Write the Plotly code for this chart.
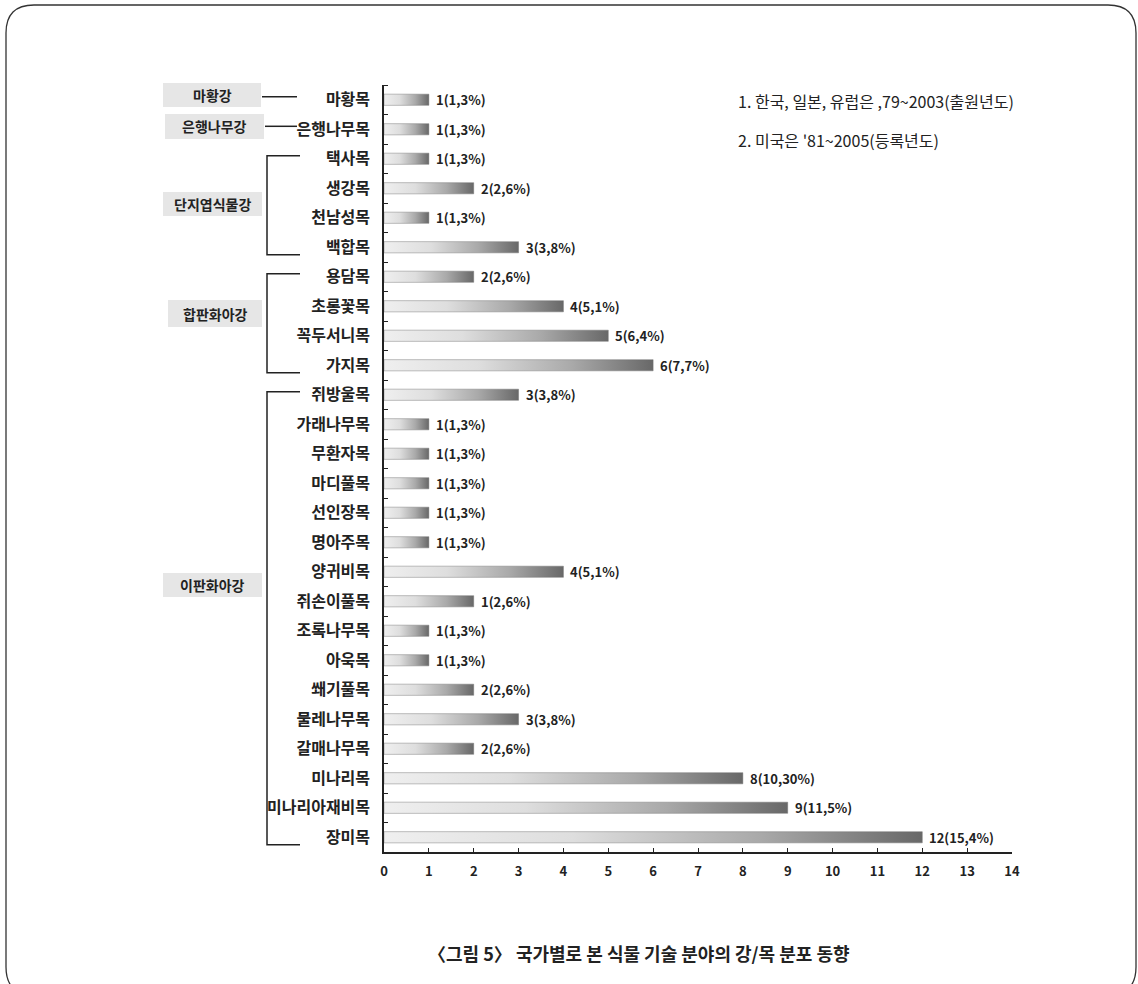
import plotly.graph_objects as go

# Orders (목) in display order, counts and printed labels
orders = ["마황목", "은행나무목", "택사목", "생강목", "천남성목", "백합목",
          "용담목", "초롱꽃목", "꼭두서니목", "가지목", "쥐방울목", "가래나무목",
          "무환자목", "마디풀목", "선인장목", "명아주목", "양귀비목", "쥐손이풀목",
          "조록나무목", "아욱목", "쐐기풀목", "물레나무목", "갈매나무목", "미나리목",
          "미나리아재비목", "장미목"]
counts = [1, 1, 1, 2, 1, 3, 2, 4, 5, 6, 3, 1, 1, 1, 1, 1, 4, 2, 1, 1, 2, 3, 2, 8, 9, 12]
value_labels = ["1(1,3%)", "1(1,3%)", "1(1,3%)", "2(2,6%)", "1(1,3%)", "3(3,8%)",
                "2(2,6%)", "4(5,1%)", "5(6,4%)", "6(7,7%)", "3(3,8%)", "1(1,3%)",
                "1(1,3%)", "1(1,3%)", "1(1,3%)", "1(1,3%)", "4(5,1%)", "1(2,6%)",
                "1(1,3%)", "1(1,3%)", "2(2,6%)", "3(3,8%)", "2(2,6%)", "8(10,30%)",
                "9(11,5%)", "12(15,4%)"]

# Classes (강): name, first row, last row
classes = [("마황강", 0, 0), ("은행나무강", 1, 1), ("단지엽식물강", 2, 5),
           ("합판화아강", 6, 9), ("이판화아강", 10, 25)]

notes = ["1. 한국, 일본, 유럽은 ,79~2003(출원년도)", "2. 미국은 '81~2005(등록년도)"]
title_text = "〈그림 5〉 국가별로 본 식물 기술 분야의 강/목 분포 동향"
x_ticks = list(range(0, 15))

W, H = 1138, 984
L, R, T, B = 384, 1012, 85, 852
FONT = "Noto Sans CJK KR"


def px(x):
    return (x - L) / (R - L)


def py(y):
    return (B - y) / (B - T)


fig = go.Figure()

half = 0.19
gradient = [[0, "#efefef"], [0.35, "#dedede"], [0.7, "#a9a9a9"], [1, "#686868"]]
for i, (name, v) in enumerate(zip(orders, counts)):
    fig.add_trace(go.Scatter(
        x=[0, v, v, 0, 0],
        y=[i - half, i - half, i + half, i + half, i - half],
        mode="lines", fill="toself",
        line=dict(color="rgba(110,110,110,0.55)", width=0.8),
        fillgradient=dict(type="horizontal", colorscale=gradient),
        hoverinfo="skip", showlegend=False, name=name,
    ))

# value labels at bar ends
for i, (v, lab) in enumerate(zip(counts, value_labels)):
    fig.add_annotation(x=v, y=i, text=f"<b>{lab}</b>", showarrow=False,
                       xanchor="left", yanchor="middle", xshift=5,
                       font=dict(family=FONT, size=13, color="#222"),
                       xref="x", yref="y")

shapes = []
# class label boxes (pixel extents) and connectors
boxes = {
    "마황강": (163, 261, 83, 107),
    "은행나무강": (165, 264, 114, 139),
    "단지엽식물강": (163, 262, 192, 216),
    "합판화아강": (168, 262, 300, 327),
    "이판화아강": (163, 262, 573, 597),
}
for name, r0, r1 in classes:
    x0, x1, y0, y1 = boxes[name]
    shapes.append(dict(type="rect", xref="paper", yref="paper",
                       x0=px(x0), x1=px(x1), y0=py(y1), y1=py(y0),
                       fillcolor="#e6e6e6", line=dict(width=0), layer="below"))
    fig.add_annotation(x=px((x0 + x1) / 2), y=py((y0 + y1) / 2), xref="paper",
                       yref="paper", text=f"<b>{name}</b>", showarrow=False,
                       xanchor="center", yanchor="middle",
                       font=dict(family=FONT, size=14, color="#222"))
    if r0 == r1:
        shapes.append(dict(type="line", xref="paper", yref="y",
                           x0=px(x1 + 1), x1=px(297), y0=r0 - 0.1, y1=r0 - 0.1,
                           line=dict(color="#222", width=1.5)))
    else:
        bx = px(267)
        shapes.append(dict(type="path", xref="paper", yref="y",
                           path=f"M {px(300)},{r0 - 0.1} L {bx},{r0 - 0.1} "
                                f"L {bx},{r1 + 0.25} L {px(300)},{r1 + 0.25}",
                           line=dict(color="#222", width=1.5)))

# rounded outer frame
fx0, fy0, fx1, fy1, rad = 6, 5, 1136, 995, 28
frame = (f"M {px(fx0 + rad)},{py(fy0)} L {px(fx1 - rad)},{py(fy0)} "
         f"Q {px(fx1)},{py(fy0)} {px(fx1)},{py(fy0 + rad)} "
         f"L {px(fx1)},{py(fy1 - rad)} Q {px(fx1)},{py(fy1)} {px(fx1 - rad)},{py(fy1)} "
         f"L {px(fx0 + rad)},{py(fy1)} Q {px(fx0)},{py(fy1)} {px(fx0)},{py(fy1 - rad)} "
         f"L {px(fx0)},{py(fy0 + rad)} Q {px(fx0)},{py(fy0)} {px(fx0 + rad)},{py(fy0)} Z")
shapes.append(dict(type="path", xref="paper", yref="paper", path=frame,
                   line=dict(color="#333", width=1.3)))

# notes
for k, txt in enumerate(notes):
    fig.add_annotation(x=px(736), y=py(101 + 39 * k), xref="paper", yref="paper",
                       text=txt, showarrow=False, xanchor="left", yanchor="middle",
                       font=dict(family=FONT, size=16, color="#222"))

# caption
fig.add_annotation(x=px(639), y=py(953), xref="paper", yref="paper",
                   text=f"<b>{title_text}</b>", showarrow=False,
                   xanchor="center", yanchor="middle",
                   font=dict(family=FONT, size=18, color="#222"))

fig.update_layout(
    width=W, height=H,
    margin=dict(l=L, r=W - R, t=T, b=H - B),
    paper_bgcolor="white", plot_bgcolor="white",
    shapes=shapes,
    xaxis=dict(range=[0, 14], tickvals=x_ticks, ticktext=[str(t) for t in x_ticks],
               ticks="inside", ticklen=4, tickcolor="#222", tickwidth=1.3,
               ticklabelstandoff=7,
               showline=True, linecolor="#222", linewidth=1.5, showgrid=False,
               zeroline=False,
               tickfont=dict(family=FONT, size=13, color="#222", weight="bold")),
    yaxis=dict(range=[25.5, -0.5], tickmode="array", tickvals=list(range(len(orders))),
               ticktext=orders, ticks="", ticklabelstandoff=9,
               minor=dict(tickmode="linear", tick0=-0.5, dtick=1, ticks="inside",
                          ticklen=4, tickcolor="#222", tickwidth=1.3, showgrid=False),
               showline=True, linecolor="#222", linewidth=1.5, showgrid=False,
               zeroline=False,
               tickfont=dict(family=FONT, size=16, color="#222", weight="bold")),
)

fig.write_html("out.html")
